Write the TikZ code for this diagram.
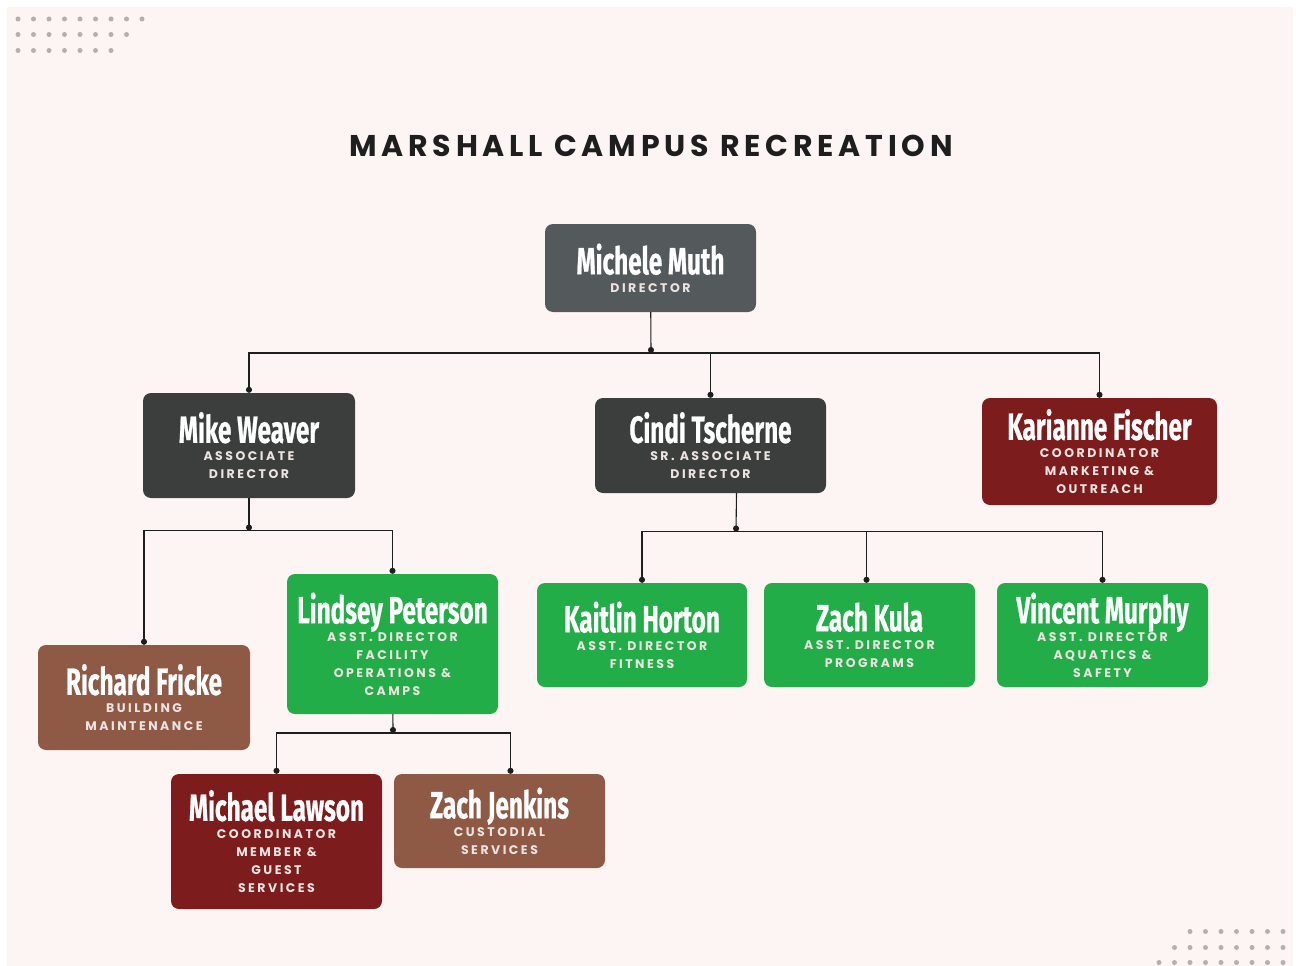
\documentclass[tikz,border=0pt]{standalone}
\usepackage{fontspec}
\setmainfont{Poppins}
\newfontfamily\namefont[FakeStretch=0.64,FakeBold=0.6]{Fira Sans}
\newfontfamily\rolefont[LetterSpace=20]{Poppins}
\newfontfamily\titlefont[LetterSpace=16]{Poppins}
\usetikzlibrary{arrows.meta,positioning}

\definecolor{bgpink}{HTML}{FCF5F3}
\definecolor{dotgray}{HTML}{B5AFAD}
\definecolor{slate}{HTML}{545A5B}
\definecolor{charcoal}{HTML}{3B3E3D}
\definecolor{wine}{HTML}{7D1C1C}
\definecolor{clay}{HTML}{8E5A45}
\definecolor{leaf}{HTML}{22AD48}
\definecolor{rolewhite}{HTML}{EDE4E1}
\definecolor{linegray}{HTML}{1E1E1E}

% name on top, role lines below
\newcommand{\staff}[2]{{\namefont\bfseries\color{white}\fontsize{38}{38}\selectfont #1}\\#2}

\begin{document}
\begin{tikzpicture}[x=1pt,y=-1pt,
	box/.style={rounded corners=8pt, inner sep=0pt, align=center, text=rolewhite, minimum width=211pt, font=\rolefont\bfseries\fontsize{12.5}{18}\selectfont},
	link/.style={draw=linegray, line width=1.1pt, -{Circle[length=6pt]}}]

	\fill[white] (0,0) rectangle (1296,966);
	\fill[bgpink] (7,7) rectangle (1293,966);
	\useasboundingbox (0,0) rectangle (1296,966);

	% dots in the corners
	\foreach \i in {0,...,8} \fill[dotgray] (18+15.5*\i,19) circle (2.5pt);
	\foreach \i in {0,...,7} \fill[dotgray] (18+15.5*\i,34.5) circle (2.5pt);
	\foreach \i in {0,...,6} \fill[dotgray] (18+15.5*\i,50.5) circle (2.5pt);
	\foreach \i in {0,...,6} \fill[dotgray] (1283-15.5*\i,931.5) circle (2.5pt);
	\foreach \i in {0,...,7} \fill[dotgray] (1283-15.5*\i,947.5) circle (2.5pt);
	\foreach \i in {0,...,8} \fill[dotgray] (1283-15.5*\i,962.5) circle (2.5pt);

	\node[font=\titlefont\bfseries\fontsize{30}{30}\selectfont, text=linegray] (title) at (651,146) {MARSHALL CAMPUS RECREATION};

	\node[box, fill=slate, minimum height=88pt] (michele) at (650.5,268) {\staff{Michele Muth}{DIRECTOR}};

	\node[box, fill=charcoal, minimum width=212pt, minimum height=105pt] (mike) at (249,445.5) {\staff{Mike Weaver}{ASSOCIATE\\DIRECTOR}};
	\node[box, fill=charcoal, minimum width=231pt, minimum height=95pt] (cindi) at (710.5,445.5) {\staff{Cindi Tscherne}{SR. ASSOCIATE\\DIRECTOR}};
	\node[box, fill=wine, minimum width=235pt, minimum height=107pt] (karianne) at (1099.5,451.5) {\staff{Karianne Fischer}{COORDINATOR\\MARKETING \&\\OUTREACH}};

	\node[box, fill=clay, minimum width=212pt, minimum height=105pt] (richard) at (144,697.5) {\staff{Richard Fricke}{BUILDING\\MAINTENANCE}};
	\node[box, fill=leaf, minimum height=140pt] (lindsey) at (392.5,644) {\staff{Lindsey Peterson}{ASST. DIRECTOR\\FACILITY\\OPERATIONS \&\\CAMPS}};

	\node[box, fill=leaf, minimum width=210pt, minimum height=104pt] (kaitlin) at (642,635) {\staff{Kaitlin Horton}{ASST. DIRECTOR\\FITNESS}};
	\node[box, fill=leaf, minimum height=104pt] (kula) at (869.5,635) {\staff{Zach Kula}{ASST. DIRECTOR\\PROGRAMS}};
	\node[box, fill=leaf, minimum height=104pt] (vincent) at (1102.5,635) {\staff{Vincent Murphy}{ASST. DIRECTOR\\AQUATICS \&\\SAFETY}};

	\node[box, fill=wine, minimum height=135pt] (lawson) at (276.5,841.5) {\staff{Michael Lawson}{COORDINATOR\\MEMBER \&\\GUEST\\SERVICES}};
	\node[box, fill=clay, minimum height=94pt] (jenkins) at (499.5,821) {\staff{Zach Jenkins}{CUSTODIAL\\SERVICES}};

	% junctions
	\coordinate (j1) at (651,353);
	\coordinate (j2) at (249,530.5);
	\coordinate (j3) at (736,531.5);
	\coordinate (j4) at (393,733);

	\draw[link] (michele) -- (j1);
	\draw[link] (j1) -| (mike);
	\draw[link] (j1) -| (cindi);
	\draw[link] (j1) -| (karianne);

	\draw[link] (mike) -- (j2);
	\draw[link] (j2) -| (richard);
	\draw[link] (j2) -| (lindsey);

	\draw[link] ([xshift=26pt]cindi.south) -- (j3);
	\draw[link] (j3) -| (kaitlin);
	\draw[link] (j3) -| ([xshift=-3pt]kula.north);
	\draw[link] (j3) -| (vincent);

	\draw[link] (lindsey) -- (j4);
	\draw[link] (j4) -| (lawson);
	\draw[link] (j4) -| ([xshift=11pt]jenkins.north);

\end{tikzpicture}
\end{document}
